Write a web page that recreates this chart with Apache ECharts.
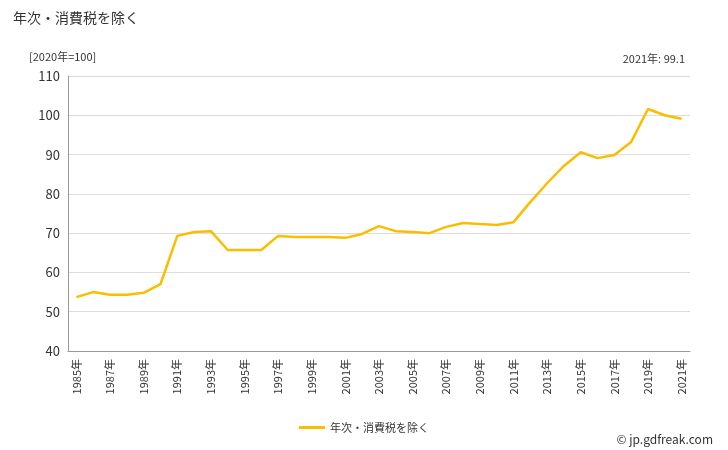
<!DOCTYPE html>
<html><head><meta charset="utf-8">
<script src="https://cdn.jsdelivr.net/npm/echarts@6/dist/echarts.min.js"></script>
<style>body{margin:0}#c{width:728px;height:450px}</style></head>
<body><div id="c"></div>
<script>
const years = [];
for (let y = 1985; y <= 2021; y++) years.push(y + '年');
const values = [53.7,55.0,54.3,54.3,54.8,57.0,69.3,70.3,70.5,65.7,65.7,65.7,69.3,69.0,69.0,69.0,68.8,69.8,71.8,70.5,70.3,70.0,71.6,72.6,72.3,72.1,72.8,77.9,82.7,87.1,90.6,89.1,89.9,93.2,101.6,100.0,99.1];
const seriesName = '年次・消費税を除く';
const font = '"Noto Sans CJK JP", sans-serif';
const chart = echarts.init(document.getElementById('c'));
chart.setOption({
  animation: false,
  textStyle: {fontFamily: font},
  title: [
    {text: seriesName, left: 8, top: 6, textStyle: {fontSize: 14, fontWeight: 'normal', color: '#333', fontFamily: font}},
    {text: '[2020年=100]', left: 24, top: 46, textStyle: {fontSize: 11, fontWeight: 'normal', color: '#333', fontFamily: font}},
    {text: '2021年: 99.1', right: 38, top: 48, textStyle: {fontSize: 11, fontWeight: 'normal', color: '#333', fontFamily: font}},
    {text: '© jp.gdfreak.com', right: 10, top: 428, textStyle: {fontSize: 12, fontWeight: 'normal', color: '#333', fontFamily: font}}
  ],
  legend: {bottom: 12, left: 'center', itemWidth: 26, itemHeight: 3, icon: 'rect', textStyle: {fontSize: 11, color: '#333'}, data: [seriesName]},
  grid: {left: 68, right: 38, top: 76, bottom: 99},
  xAxis: {type: 'category', data: years, boundaryGap: true,
    axisLine: {lineStyle: {color: '#999'}}, axisTick: {alignWithLabel: true, interval: 0, lineStyle: {color: '#999'}},
    axisLabel: {rotate: 90, interval: 1, fontSize: 11, color: '#333'}},
  yAxis: {type: 'value', min: 40, max: 110, interval: 10,
    axisLine: {show: true, lineStyle: {color: '#999'}},
    splitLine: {lineStyle: {color: '#ddd'}},
    axisLabel: {fontSize: 13, color: '#333'}},
  series: [{name: seriesName, type: 'line', data: values, symbol: 'none', lineStyle: {color: '#fbbd00', width: 2.5}, itemStyle: {color: '#fbbd00'}}]
});
</script></body></html>
